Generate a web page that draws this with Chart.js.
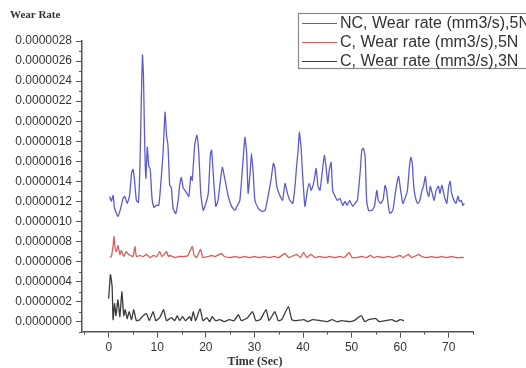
<!DOCTYPE html>
<html>
<head>
<meta charset="utf-8">
<title>Wear rate vs time</title>
<script src="https://cdn.jsdelivr.net/npm/chart.js@4.4.1/dist/chart.umd.min.js"></script>
<style>
  html, body { margin: 0; padding: 0; background: #fff; }
  canvas { display: block; }
</style>
</head>
<body>
<canvas id="wear-chart" width="526" height="368"></canvas>
<script>
// Wear rate values are in units of 1e-6 mm3/s; time is in seconds.
const ncTime = [0.2, 0.55, 0.9, 1.2, 1.6, 1.9, 2.4, 2.95, 3.3, 3.8, 4.3, 4.7, 5.0, 5.3, 5.7, 6.1, 6.4, 6.7, 6.95, 7.15,
  7.4, 7.65, 7.95, 8.25, 8.55, 8.9, 9.3, 9.8, 10.3, 10.65, 11.2, 11.6, 11.9, 12.2, 12.55, 12.9, 13.25, 13.8, 14.3, 14.6,
  14.95, 15.3, 15.7, 16.1, 16.5, 16.9, 17.2, 17.7, 18.15, 18.55, 18.95, 19.45, 20.0, 20.5, 20.95, 21.2, 21.65, 22.05, 22.5, 23.0,
  23.4, 23.8, 24.1, 24.6, 25.3, 26.0, 26.4, 27.0, 27.55, 28.05, 28.4, 28.7, 29.1, 29.4, 29.75, 30.1, 30.8, 31.5, 32.2, 32.8,
  33.4, 33.9, 34.2, 34.6, 35.3, 35.8, 36.3, 36.8, 37.3, 37.9, 38.35, 38.7, 39.0, 39.25, 39.6, 39.9, 40.4, 40.9, 41.3, 41.7,
  42.3, 42.7, 43.1, 43.5, 44.0, 44.4, 44.75, 45.1, 45.4, 45.8, 46.1, 46.6, 47.1, 47.6, 48.2, 48.65, 49.1, 49.6, 50.25, 50.7,
  51.2, 51.8, 52.1, 52.45, 52.8, 53.1, 53.5, 54.2, 54.7, 55.2, 55.5, 56.0, 56.5, 56.9, 57.2, 57.6, 57.9, 58.5, 59.0, 59.45,
  59.7, 60.1, 60.55, 61.0, 61.5, 61.9, 62.2, 62.5, 62.75, 63.1, 63.6, 64.0, 64.5, 64.8, 65.2, 65.5, 65.9, 66.2, 66.6, 67.0,
  67.4, 67.9, 68.2, 68.6, 69.1, 69.6, 70.0, 70.3, 70.6, 71.1, 71.5, 71.9, 72.2, 72.6, 72.9, 73.2];
const ncRate = [1.25, 1.20, 1.26, 1.13, 1.08, 1.05, 1.12, 1.23, 1.25, 1.18, 1.26, 1.48, 1.52, 1.42, 1.21, 1.19, 1.50, 2.18, 2.66, 2.46,
  1.80, 1.43, 1.74, 1.55, 1.52, 1.24, 1.14, 1.16, 1.16, 1.33, 1.69, 2.09, 1.86, 1.76, 1.36, 1.34, 1.13, 1.08, 1.21, 1.36,
  1.44, 1.34, 1.31, 1.28, 1.25, 1.45, 1.41, 1.76, 1.86, 1.68, 1.28, 1.11, 1.18, 1.28, 1.68, 1.71, 1.38, 1.15, 1.21, 1.41,
  1.54, 1.45, 1.38, 1.25, 1.15, 1.11, 1.15, 1.21, 1.54, 1.84, 1.68, 1.28, 1.48, 1.68, 1.48, 1.21, 1.13, 1.10, 1.11, 1.25,
  1.41, 1.58, 1.54, 1.35, 1.25, 1.21, 1.38, 1.28, 1.21, 1.18, 1.35, 1.56, 1.71, 1.89, 1.74, 1.48, 1.15, 1.31, 1.38, 1.31,
  1.41, 1.53, 1.35, 1.31, 1.51, 1.66, 1.54, 1.38, 1.51, 1.59, 1.31, 1.25, 1.21, 1.23, 1.16, 1.20, 1.16, 1.21, 1.15, 1.18,
  1.21, 1.51, 1.71, 1.73, 1.64, 1.21, 1.11, 1.11, 1.15, 1.31, 1.21, 1.18, 1.22, 1.36, 1.31, 1.15, 1.08, 1.11, 1.28, 1.41,
  1.45, 1.31, 1.18, 1.23, 1.31, 1.54, 1.64, 1.58, 1.38, 1.25, 1.18, 1.20, 1.31, 1.35, 1.45, 1.31, 1.25, 1.35, 1.28, 1.21,
  1.31, 1.35, 1.28, 1.36, 1.25, 1.18, 1.35, 1.40, 1.28, 1.21, 1.18, 1.25, 1.20, 1.21, 1.16, 1.18];

const c5Time = [0.3, 0.6, 0.9, 1.1, 1.35, 1.6, 1.9, 2.3, 2.6, 3.1, 3.6, 4.1, 4.5, 5.0, 5.4, 5.7, 6.4, 7.1, 7.8, 8.5,
  9.2, 9.9, 10.5, 10.9, 11.6, 11.9, 12.3, 12.6, 13.6, 14.6, 15.6, 16.3, 17.2, 17.6, 18.1, 18.9, 19.4, 20.5, 21.2, 21.9,
  23.2, 23.8, 25.0, 26.0, 27.0, 28.0, 29.0, 30.0, 31.0, 32.0, 33.0, 34.0, 35.0, 36.3, 37.0, 38.7, 39.5, 40.1, 40.8, 41.6,
  42.5, 43.5, 44.5, 45.5, 46.5, 47.5, 48.5, 49.5, 50.1, 51.0, 52.0, 53.0, 53.9, 54.6, 55.5, 56.5, 57.5, 58.5, 60.0, 60.6,
  61.7, 62.4, 63.8, 64.5, 65.5, 66.5, 67.5, 68.5, 69.5, 70.5, 71.5, 72.5, 73.1];
const c5Rate = [0.64, 0.66, 0.76, 0.85, 0.72, 0.70, 0.76, 0.67, 0.71, 0.65, 0.70, 0.67, 0.66, 0.65, 0.75, 0.65, 0.66, 0.65, 0.67, 0.64,
  0.66, 0.65, 0.70, 0.65, 0.68, 0.70, 0.65, 0.66, 0.64, 0.65, 0.65, 0.66, 0.75, 0.66, 0.64, 0.72, 0.64, 0.65, 0.66, 0.65,
  0.68, 0.65, 0.64, 0.65, 0.64, 0.65, 0.64, 0.65, 0.64, 0.65, 0.64, 0.65, 0.64, 0.68, 0.64, 0.67, 0.64, 0.69, 0.64, 0.67,
  0.64, 0.65, 0.64, 0.65, 0.64, 0.65, 0.64, 0.69, 0.64, 0.64, 0.65, 0.64, 0.66, 0.64, 0.65, 0.64, 0.65, 0.64, 0.66, 0.64,
  0.67, 0.64, 0.67, 0.65, 0.64, 0.65, 0.64, 0.65, 0.64, 0.65, 0.64, 0.64, 0.64];

const c3Time = [0.0, 0.35, 0.7, 0.9, 1.2, 1.5, 1.9, 2.3, 2.7, 3.1, 3.4, 3.8, 4.2, 4.7, 5.15, 5.7, 6.4, 7.1, 7.8, 8.35,
  9.15, 9.7, 10.5, 11.3, 11.9, 12.9, 13.6, 14.1, 14.6, 15.2, 15.8, 16.7, 17.0, 17.4, 17.9, 18.8, 19.4, 20.2, 20.8, 21.3,
  22.0, 22.9, 23.8, 24.8, 25.8, 26.7, 27.3, 28.6, 29.6, 30.3, 31.2, 32.4, 33.0, 34.2, 34.9, 35.6, 37.0, 37.7, 38.7, 40.2,
  40.9, 42.0, 43.6, 45.0, 46.0, 47.0, 48.0, 49.5, 50.5, 52.0, 52.7, 53.5, 55.0, 55.7, 57.0, 58.3, 59.2, 60.0, 60.8];
const c3Rate = [0.23, 0.47, 0.35, 0.02, 0.18, 0.06, 0.22, 0.05, 0.30, 0.06, 0.12, 0.03, 0.10, 0.02, 0.12, 0.01, 0.02, 0.06, 0.08, 0.01,
  0.10, 0.01, 0.04, 0.12, 0.01, 0.04, 0.01, 0.06, 0.01, 0.05, 0.01, 0.05, 0.01, 0.10, 0.01, 0.13, 0.01, 0.04, 0.00, 0.05,
  0.01, 0.02, 0.00, 0.02, 0.01, 0.07, 0.01, 0.04, 0.10, 0.01, 0.02, 0.12, 0.01, 0.10, 0.01, 0.02, 0.15, 0.02, 0.01, 0.02,
  0.00, 0.02, 0.01, 0.00, 0.02, 0.00, 0.01, 0.00, 0.01, 0.06, 0.00, 0.02, 0.03, 0.00, 0.01, 0.02, 0.00, 0.02, 0.01];

const seriesLabels = ['NC, Wear rate (mm3/s),5N', 'C, Wear rate (mm3/s),5N', 'C, Wear rate (mm3/s),3N'];
const seriesColors = ['#5c5cd0', '#d65e5e', '#3a3a3a'];

const xTicks = [0, 10, 20, 30, 40, 50, 60, 70];
const xMinorTicks = [-5, 5, 15, 25, 35, 45, 55, 65, 75];
const yTicks = [0, 0.2, 0.4, 0.6, 0.8, 1.0, 1.2, 1.4, 1.6, 1.8, 2.0, 2.2, 2.4, 2.6, 2.8];
const yMinorTicks = [-0.1, 0.1, 0.3, 0.5, 0.7, 0.9, 1.1, 1.3, 1.5, 1.7, 1.9, 2.1, 2.3, 2.5, 2.7];

const AXIS = '#555';
const TEXT = '#333';
const SANS = '"Liberation Sans", Arial, sans-serif';
const SERIF = '"Liberation Serif", "Times New Roman", serif';

const toPoints = (xs, ys) => xs.map((x, i) => ({ x, y: ys[i] }));

// short outward ticks halfway between the labelled ones
const minorTicks = {
  id: 'minorTicks',
  afterDraw(chart) {
    const { ctx, scales: { x, y } } = chart;
    ctx.save();
    ctx.strokeStyle = AXIS;
    ctx.lineWidth = 1;
    ctx.beginPath();
    xMinorTicks.forEach(v => {
      const px = Math.round(x.getPixelForValue(v)) + 0.5;
      ctx.moveTo(px, y.bottom);
      ctx.lineTo(px, y.bottom + 3);
    });
    yMinorTicks.forEach(v => {
      const py = Math.round(y.getPixelForValue(v)) + 0.5;
      ctx.moveTo(x.left, py);
      ctx.lineTo(x.left - 3, py);
    });
    ctx.stroke();
    ctx.restore();
  },
};

// boxed legend in the top-right corner and the two axis captions
const decorations = {
  id: 'decorations',
  afterDraw(chart) {
    const ctx = chart.ctx;
    ctx.save();

    ctx.fillStyle = TEXT;
    ctx.textBaseline = 'middle';
    ctx.font = 'bold 11px ' + SERIF;
    ctx.textAlign = 'left';
    ctx.fillText('Wear Rate', 10, 15);
    ctx.font = 'bold 12px ' + SERIF;
    ctx.textAlign = 'center';
    ctx.fillText('Time (Sec)', 255, 362);

    ctx.strokeStyle = '#8a8a8a';
    ctx.lineWidth = 1.2;
    ctx.strokeRect(298.5, 13.5, 240, 55);

    ctx.font = '16px ' + SANS;
    ctx.textAlign = 'left';
    chart.data.datasets.forEach((ds, i) => {
      const ly = 23.5 + i * 19;
      ctx.strokeStyle = ds.borderColor;
      ctx.lineWidth = 1;
      ctx.beginPath();
      ctx.moveTo(302, ly);
      ctx.lineTo(337, ly);
      ctx.stroke();
      ctx.fillStyle = TEXT;
      ctx.fillText(ds.label, 340, ly + 0.5);
    });
    ctx.restore();
  },
};

const axisStyle = {
  grid: { drawOnChartArea: false, drawTicks: true, tickLength: 6, tickColor: AXIS, tickWidth: 1 },
  border: { color: AXIS, width: 1.5 },
};

new Chart(document.getElementById('wear-chart'), {
  type: 'line',
  data: {
    datasets: [
      { label: seriesLabels[0], data: toPoints(ncTime, ncRate), borderColor: seriesColors[0] },
      { label: seriesLabels[1], data: toPoints(c5Time, c5Rate), borderColor: seriesColors[1] },
      { label: seriesLabels[2], data: toPoints(c3Time, c3Rate), borderColor: seriesColors[2] },
    ],
  },
  options: {
    responsive: false,
    animation: false,
    devicePixelRatio: 1,
    layout: { padding: { top: 41, right: 53, left: 0, bottom: 0 } },
    elements: {
      line:  { borderWidth: 1.3, tension: 0.15, fill: false },
      point: { radius: 0 },
    },
    scales: {
      x: {
        type: 'linear',
        min: -5.5,
        max: 75,
        ...axisStyle,
        afterBuildTicks: s => { s.ticks = xTicks.map(value => ({ value })); },
        afterFit: s => { s.height = 36.3; },
        ticks: { font: { family: SANS, size: 12 }, color: TEXT, padding: 3, maxRotation: 0 },
      },
      y: {
        type: 'linear',
        min: -0.1,
        max: 2.8,
        ...axisStyle,
        afterBuildTicks: s => { s.ticks = yTicks.map(value => ({ value })); },
        afterFit: s => { s.width = 82; },
        ticks: {
          font: { family: SANS, size: 12 },
          color: TEXT,
          padding: 4,
          callback: v => (v * 1e-6).toFixed(7),
        },
      },
    },
    plugins: {
      legend: { display: false },
      tooltip: { enabled: false },
    },
  },
  plugins: [minorTicks, decorations],
});
</script>
</body>
</html>
